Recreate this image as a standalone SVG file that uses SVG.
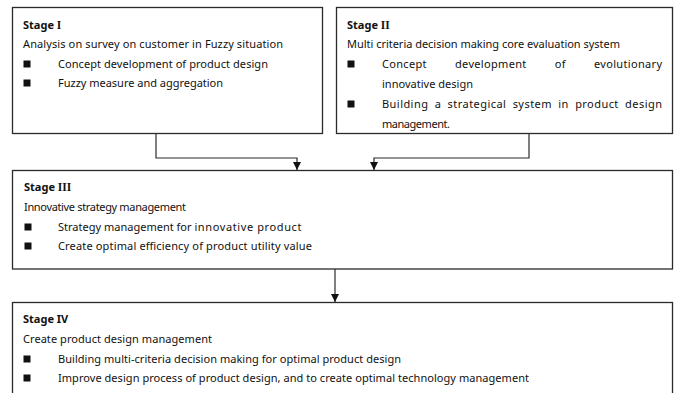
<svg xmlns="http://www.w3.org/2000/svg" width="679" height="393" viewBox="0 0 679 393">
<style>
.box{fill:#fff;stroke:#2a2a2a;stroke-width:1.3}
.t{font-family:"Noto Sans","Open Sans","Liberation Sans",sans-serif;font-size:11px;fill:#111}
.h{font-family:"Noto Sans","Open Sans","Liberation Sans",sans-serif;font-size:11px;font-weight:bold;fill:#111}
.rn{font-family:"Liberation Serif",serif;font-weight:bold;font-size:11.5px}
.b{fill:#111}
.c{fill:none;stroke:#2a2a2a;stroke-width:1.2}
</style>
<defs>
<marker id="ah" viewBox="0 0 8 8" refX="8" refY="4" markerWidth="8" markerHeight="8" markerUnits="userSpaceOnUse" orient="auto">
<path d="M0,0 L8,4 L0,8 Z" fill="#111"/>
</marker>
</defs>
<rect width="679" height="393" fill="#fff"/>
<g id="connectors">
<path class="c" d="M156,134 V158 H297 V170" marker-end="url(#ah)"/>
<path class="c" d="M529,134 V158 H374 V170" marker-end="url(#ah)"/>
<path class="c" d="M335,269 V302" marker-end="url(#ah)"/>
</g>
<g id="stage1">
<rect class="box" x="12.5" y="7.5" width="310" height="126"/>
<text class="h" x="23" y="29">Stage <tspan class="rn">I</tspan></text>
<text class="t" x="23" y="48" textLength="260" lengthAdjust="spacing">Analysis on survey on customer in Fuzzy situation</text>
<rect class="b" x="23.5" y="60.5" width="7" height="7"/>
<text class="t" x="58" y="68" textLength="210" lengthAdjust="spacing">Concept development of product design</text>
<rect class="b" x="23.5" y="79.5" width="7" height="7"/>
<text class="t" x="58" y="87" textLength="165" lengthAdjust="spacing">Fuzzy measure and aggregation</text>
</g>
<g id="stage2">
<rect class="box" x="336.5" y="7.5" width="336" height="126"/>
<text class="h" x="347" y="29">Stage <tspan class="rn">II</tspan></text>
<text class="t" x="347" y="48" textLength="273" lengthAdjust="spacing">Multi criteria decision making core evaluation system</text>
<rect class="b" x="347.5" y="60.5" width="7" height="7"/>
<text class="t" x="382" y="68" word-spacing="25" textLength="280" lengthAdjust="spacing">Concept development of evolutionary</text>
<text class="t" x="382" y="88" textLength="91" lengthAdjust="spacing">innovative design</text>
<rect class="b" x="347.5" y="100.5" width="7" height="7"/>
<text class="t" x="382" y="108" word-spacing="3" textLength="280" lengthAdjust="spacing">Building a strategical system in product design</text>
<text class="t" x="382" y="128" textLength="68" lengthAdjust="spacing">management.</text>
</g>
<g id="stage3">
<rect class="box" x="12.5" y="170.5" width="660" height="98.5"/>
<text class="h" x="24" y="191">Stage <tspan class="rn">III</tspan></text>
<text class="t" x="24" y="211" textLength="162" lengthAdjust="spacing">Innovative strategy management</text>
<rect class="b" x="24.5" y="223.5" width="7" height="7"/>
<text class="t" x="58" y="231" textLength="244" lengthAdjust="spacing">Strategy management for <tspan letter-spacing="0.6">innovative product</tspan></text>
<rect class="b" x="24.5" y="242.5" width="7" height="7"/>
<text class="t" x="58" y="250" textLength="254" lengthAdjust="spacing">Create optimal efficiency of product utility value</text>
</g>
<g id="stage4">
<rect class="box" x="12.5" y="302.5" width="660" height="100"/>
<text class="h" x="23" y="323">Stage IV</text>
<text class="t" x="23" y="343" textLength="189" lengthAdjust="spacing">Create product design management</text>
<rect class="b" x="23.5" y="355.5" width="7" height="7"/>
<text class="t" x="58" y="363" textLength="343" lengthAdjust="spacing">Building multi-criteria decision making for optimal product design</text>
<rect class="b" x="23.5" y="374.5" width="7" height="7"/>
<text class="t" x="58" y="382" textLength="471" lengthAdjust="spacing">Improve design process of product design, and to create optimal technology management</text>
</g>
</svg>
